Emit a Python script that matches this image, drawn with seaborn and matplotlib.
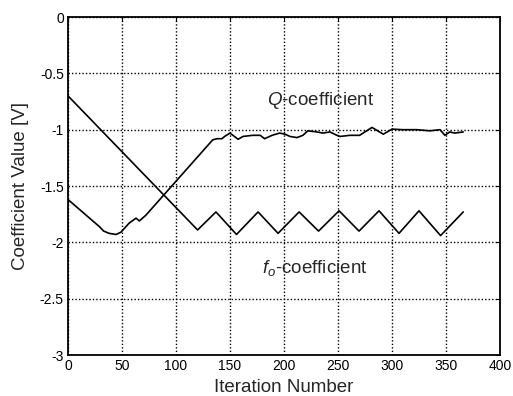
import numpy as np
import pandas as pd
import matplotlib
matplotlib.use("Agg")
import matplotlib.pyplot as plt
import seaborn as sns

# f0-coefficient: linear drop, then a triangle wave
f0_iter = [0, 120, 137, 156, 176, 194.5, 214, 232, 251, 269.5, 288, 306.5, 325, 345, 366]
f0_value = [-0.70, -1.89, -1.73, -1.93, -1.73, -1.92, -1.73, -1.90, -1.72, -1.90,
            -1.72, -1.92, -1.72, -1.94, -1.73]

# Q-coefficient: dip, climb, then noisy plateau near -1
q_iter = [0, 29, 33, 38, 44.5, 49, 56.5, 63, 66, 72, 134, 138, 142.5, 145, 150, 157.5,
          162, 171, 178, 182, 189, 196, 201, 205.5, 212, 217.5, 222, 230.5, 236, 242.5,
          249, 252, 261, 270, 281.5, 292, 300, 310, 323, 335, 344.5, 349, 353.5, 358, 366]
q_value = [-1.62, -1.86, -1.90, -1.92, -1.93, -1.91, -1.83, -1.785, -1.81, -1.76, -1.09,
           -1.08, -1.08, -1.06, -1.03, -1.085, -1.06, -1.05, -1.05, -1.08, -1.05, -1.03,
           -1.04, -1.06, -1.07, -1.05, -1.01, -1.02, -1.03, -1.02, -1.05, -1.06, -1.05,
           -1.05, -0.98, -1.04, -0.995, -1.0, -1.0, -1.01, -1.0, -1.05, -1.02, -1.03, -1.02]

x_ticks = [0, 50, 100, 150, 200, 250, 300, 350, 400]
y_ticks = [0, -0.5, -1, -1.5, -2, -2.5, -3]
y_tick_labels = ["0", "-0.5", "-1", "-1.5", "-2", "-2.5", "-3"]

sns.set_style("white")
plt.rcParams['font.family'] = ['Liberation Sans', 'DejaVu Sans']
plt.rcParams['mathtext.fontset'] = 'custom'
plt.rcParams['mathtext.rm'] = 'Liberation Sans'
plt.rcParams['mathtext.it'] = 'Liberation Sans:italic'

df_f0 = pd.DataFrame({"iter": f0_iter, "value": f0_value})
df_q = pd.DataFrame({"iter": q_iter, "value": q_value})

fig = plt.figure(figsize=(5.13, 3.96), dpi=100)
ax = fig.add_axes([0.1326, 0.1035, 0.842, 0.8535])

sns.lineplot(data=df_f0, x="iter", y="value", ax=ax, color="black", linewidth=1.2,
             estimator=None, sort=False)
sns.lineplot(data=df_q, x="iter", y="value", ax=ax, color="black", linewidth=1.2,
             estimator=None, sort=False)

ax.set_xlim(0, 400)
ax.set_ylim(-3, 0)
ax.set_xticks(x_ticks)
ax.set_yticks(y_ticks)
ax.set_yticklabels(y_tick_labels)
ax.grid(True, color="black", linestyle=(0, (1, 1.5)), linewidth=1.0)
for s in ax.spines.values():
    s.set_color("black")
    s.set_linewidth(1.3)
ax.tick_params(direction="in", length=3, top=True, right=True, labelsize=10,
               colors="black", pad=3)

ax.set_xlabel("Iteration Number", fontsize=13.5, labelpad=4)
ax.set_ylabel("Coefficient Value [V]", fontsize=13.5, labelpad=8)

ax.text(184, -0.737, "$Q$-coefficient", fontsize=13.5, va="center", ha="left")
ax.text(179.6, -2.23, "$f_o$-coefficient", fontsize=13.5, va="center", ha="left")

fig.savefig("out.png", dpi=100)
